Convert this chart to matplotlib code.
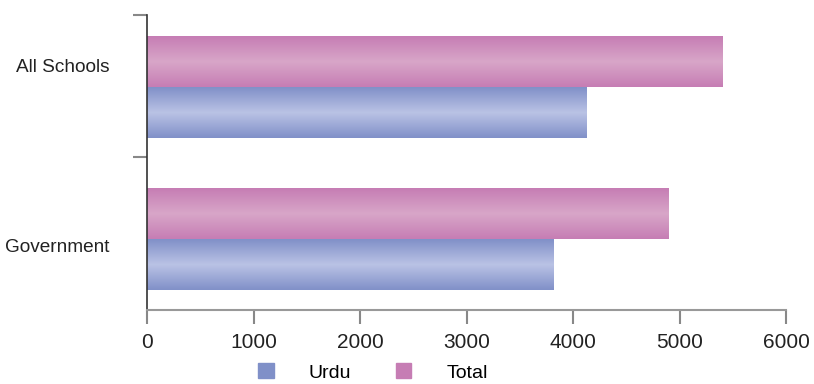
import numpy as np
import matplotlib
matplotlib.use('Agg')
import matplotlib.pyplot as plt
from matplotlib.colors import LinearSegmentedColormap
from matplotlib.patches import Patch

# data
categories = ['Government', 'All Schools']
urdu = [3820, 4130]
total = [4900, 5400]
series_names = ['Urdu', 'Total']

plt.rcParams['font.family'] = ['Liberation Sans', 'DejaVu Sans']

urdu_edge, urdu_mid = '#8090c8', '#bac3e5'
total_edge, total_mid = '#c67db4', '#d8a6c8'

fig = plt.figure(figsize=(8.14, 3.84), dpi=100)
ax = fig.add_axes([0.1806, 0.193, 0.785, 0.768])

y = np.arange(len(categories))
h = 0.335
bars_u = ax.barh(y - h / 2, urdu, height=h, color=urdu_edge)
bars_t = ax.barh(y + h / 2, total, height=h, color=total_edge)


def shade(bars, c_edge, c_mid):
    # vertical gradient: darker edges, light middle
    cmap = LinearSegmentedColormap.from_list('g', [c_edge, c_mid, c_edge])
    grad = np.linspace(0, 1, 256).reshape(-1, 1)
    for b in bars:
        x0, y0 = b.get_x(), b.get_y()
        ax.imshow(grad, cmap=cmap, aspect='auto', interpolation='bicubic',
                  extent=(x0, x0 + b.get_width(), y0, y0 + b.get_height()),
                  zorder=2)


shade(bars_u, urdu_edge, urdu_mid)
shade(bars_t, total_edge, total_mid)

ax.set_xlim(0, 6000)
ax.set_ylim(-0.467, 1.474)
ax.set_xticks(np.arange(0, 6001, 1000))
ax.tick_params(axis='x', length=10, width=1.5, color='#888888', labelsize=15,
               pad=7, labelcolor='#222222')

# boundary ticks on y axis, labels near category centers
ax.set_yticks([0.54, 1.474])
ax.set_yticklabels([])
ax.tick_params(axis='y', which='major', length=10, width=1.5, color='#888888')
ax.set_yticks([-0.04, 1.14], minor=True)
ax.set_yticklabels(categories, minor=True)
ax.tick_params(axis='y', which='minor', length=0, pad=27, labelsize=13.7,
               labelcolor='#222222')

for s in ['top', 'right']:
    ax.spines[s].set_visible(False)
ax.spines['left'].set_color('#333333')
ax.spines['left'].set_linewidth(1.2)
ax.spines['bottom'].set_color('#999999')
ax.spines['bottom'].set_linewidth(1.5)

handles = [Patch(color=urdu_edge), Patch(color=total_edge)]
fig.legend(handles, series_names, loc='center', bbox_to_anchor=(0.458, 0.03),
           ncol=2, frameon=False, fontsize=14, handlelength=0.8,
           handleheight=0.8, handletextpad=1.8, columnspacing=2.3)

fig.savefig('out.png', dpi=100)
